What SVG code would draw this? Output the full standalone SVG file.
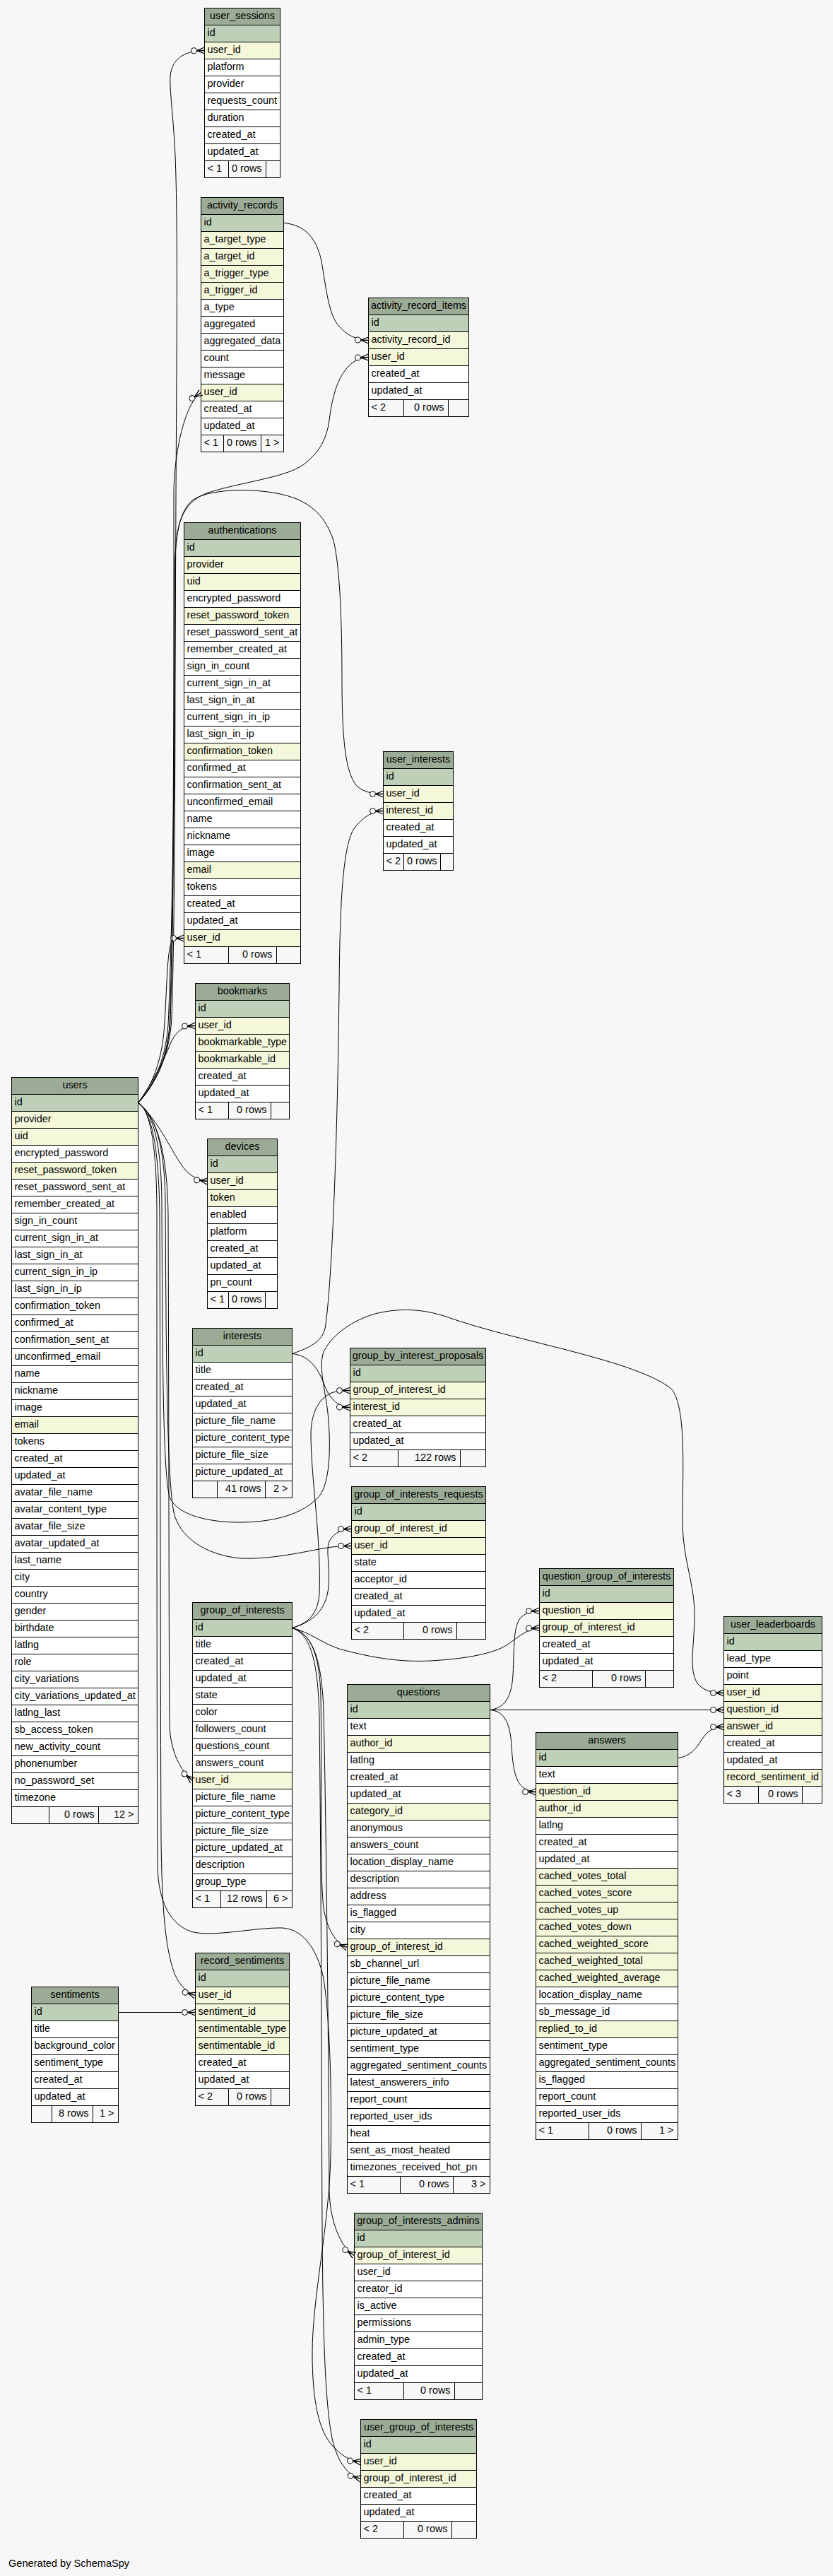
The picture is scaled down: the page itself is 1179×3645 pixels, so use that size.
<svg xmlns="http://www.w3.org/2000/svg" width="1179" height="3645" viewBox="0 0 1179 3645">
<style>
.b rect{stroke:#000;stroke-width:1}
.h{fill:#9bab96}.k{fill:#bed1b8}.i{fill:#f4f7da}.n{fill:#fff}.f{fill:#f7f7f7}
text{font-family:"Liberation Sans",Arial,Helvetica,sans-serif;font-size:14.4px;fill:#000}
.c{text-anchor:middle}.e{text-anchor:end}
#edges path{fill:none;stroke:#000;stroke-width:1;marker-end:url(#cr)}
</style>
<defs>
<marker id="cr" markerUnits="userSpaceOnUse" orient="auto" viewBox="-22 -10 24 20" refX="0" refY="0" markerWidth="24" markerHeight="20" overflow="visible">
<circle cx="-15" cy="0" r="4" fill="#f7f7f7" stroke="#000" stroke-width="1"/>
<path d="M-11,0L0,-4.5M-11,0L0,0M-11,0L0,4.5" fill="none" stroke="#000" stroke-width="1.3"/>
</marker>
</defs>
<rect width="1179" height="3645" fill="#f7f7f7"/>

<g id="user_sessions" class="b" transform="translate(289.5,11.5)">
<rect class="h" width="107" height="24"/><text class="c" x="53.5" y="15.5">user_sessions</text>
<rect class="k" y="24" width="107" height="24"/><text x="4" y="39.5">id</text>
<rect class="i" y="48" width="107" height="24"/><text x="4" y="63.5">user_id</text>
<rect class="n" y="72" width="107" height="24"/><text x="4" y="87.5">platform</text>
<rect class="n" y="96" width="107" height="24"/><text x="4" y="111.5">provider</text>
<rect class="n" y="120" width="107" height="24"/><text x="4" y="135.5">requests_count</text>
<rect class="n" y="144" width="107" height="24"/><text x="4" y="159.5">duration</text>
<rect class="n" y="168" width="107" height="24"/><text x="4" y="183.5">created_at</text>
<rect class="n" y="192" width="107" height="24"/><text x="4" y="207.5">updated_at</text>
<rect class="f" y="216" width="34" height="24"/><rect class="f" x="34" y="216" width="53" height="24"/><rect class="f" x="87" y="216" width="20" height="24"/>
<text x="4" y="231.5">&lt; 1</text><text class="e" x="81" y="231.5">0 rows</text>
</g>

<g id="activity_records" class="b" transform="translate(284.5,279.5)">
<rect class="h" width="117" height="24"/><text class="c" x="58.5" y="15.5">activity_records</text>
<rect class="k" y="24" width="117" height="24"/><text x="4" y="39.5">id</text>
<rect class="i" y="48" width="117" height="24"/><text x="4" y="63.5">a_target_type</text>
<rect class="i" y="72" width="117" height="24"/><text x="4" y="87.5">a_target_id</text>
<rect class="i" y="96" width="117" height="24"/><text x="4" y="111.5">a_trigger_type</text>
<rect class="i" y="120" width="117" height="24"/><text x="4" y="135.5">a_trigger_id</text>
<rect class="n" y="144" width="117" height="24"/><text x="4" y="159.5">a_type</text>
<rect class="n" y="168" width="117" height="24"/><text x="4" y="183.5">aggregated</text>
<rect class="n" y="192" width="117" height="24"/><text x="4" y="207.5">aggregated_data</text>
<rect class="n" y="216" width="117" height="24"/><text x="4" y="231.5">count</text>
<rect class="n" y="240" width="117" height="24"/><text x="4" y="255.5">message</text>
<rect class="i" y="264" width="117" height="24"/><text x="4" y="279.5">user_id</text>
<rect class="n" y="288" width="117" height="24"/><text x="4" y="303.5">created_at</text>
<rect class="n" y="312" width="117" height="24"/><text x="4" y="327.5">updated_at</text>
<rect class="f" y="336" width="32" height="24"/><rect class="f" x="32" y="336" width="53" height="24"/><rect class="f" x="85" y="336" width="32" height="24"/>
<text x="4" y="351.5">&lt; 1</text><text class="e" x="79" y="351.5">0 rows</text><text class="e" x="111" y="351.5">1 &gt;</text>
</g>

<g id="activity_record_items" class="b" transform="translate(521.5,421.5)">
<rect class="h" width="142" height="24"/><text class="c" x="71" y="15.5">activity_record_items</text>
<rect class="k" y="24" width="142" height="24"/><text x="4" y="39.5">id</text>
<rect class="i" y="48" width="142" height="24"/><text x="4" y="63.5">activity_record_id</text>
<rect class="i" y="72" width="142" height="24"/><text x="4" y="87.5">user_id</text>
<rect class="n" y="96" width="142" height="24"/><text x="4" y="111.5">created_at</text>
<rect class="n" y="120" width="142" height="24"/><text x="4" y="135.5">updated_at</text>
<rect class="f" y="144" width="50" height="24"/><rect class="f" x="50" y="144" width="63" height="24"/><rect class="f" x="113" y="144" width="29" height="24"/>
<text x="4" y="159.5">&lt; 2</text><text class="e" x="107" y="159.5">0 rows</text>
</g>

<g id="authentications" class="b" transform="translate(260.5,739.5)">
<rect class="h" width="165" height="24"/><text class="c" x="82.5" y="15.5">authentications</text>
<rect class="k" y="24" width="165" height="24"/><text x="4" y="39.5">id</text>
<rect class="i" y="48" width="165" height="24"/><text x="4" y="63.5">provider</text>
<rect class="i" y="72" width="165" height="24"/><text x="4" y="87.5">uid</text>
<rect class="n" y="96" width="165" height="24"/><text x="4" y="111.5">encrypted_password</text>
<rect class="i" y="120" width="165" height="24"/><text x="4" y="135.5">reset_password_token</text>
<rect class="n" y="144" width="165" height="24"/><text x="4" y="159.5">reset_password_sent_at</text>
<rect class="n" y="168" width="165" height="24"/><text x="4" y="183.5">remember_created_at</text>
<rect class="n" y="192" width="165" height="24"/><text x="4" y="207.5">sign_in_count</text>
<rect class="n" y="216" width="165" height="24"/><text x="4" y="231.5">current_sign_in_at</text>
<rect class="n" y="240" width="165" height="24"/><text x="4" y="255.5">last_sign_in_at</text>
<rect class="n" y="264" width="165" height="24"/><text x="4" y="279.5">current_sign_in_ip</text>
<rect class="n" y="288" width="165" height="24"/><text x="4" y="303.5">last_sign_in_ip</text>
<rect class="i" y="312" width="165" height="24"/><text x="4" y="327.5">confirmation_token</text>
<rect class="n" y="336" width="165" height="24"/><text x="4" y="351.5">confirmed_at</text>
<rect class="n" y="360" width="165" height="24"/><text x="4" y="375.5">confirmation_sent_at</text>
<rect class="n" y="384" width="165" height="24"/><text x="4" y="399.5">unconfirmed_email</text>
<rect class="n" y="408" width="165" height="24"/><text x="4" y="423.5">name</text>
<rect class="n" y="432" width="165" height="24"/><text x="4" y="447.5">nickname</text>
<rect class="n" y="456" width="165" height="24"/><text x="4" y="471.5">image</text>
<rect class="i" y="480" width="165" height="24"/><text x="4" y="495.5">email</text>
<rect class="n" y="504" width="165" height="24"/><text x="4" y="519.5">tokens</text>
<rect class="n" y="528" width="165" height="24"/><text x="4" y="543.5">created_at</text>
<rect class="n" y="552" width="165" height="24"/><text x="4" y="567.5">updated_at</text>
<rect class="i" y="576" width="165" height="24"/><text x="4" y="591.5">user_id</text>
<rect class="f" y="600" width="63" height="24"/><rect class="f" x="63" y="600" width="68" height="24"/><rect class="f" x="131" y="600" width="34" height="24"/>
<text x="4" y="615.5">&lt; 1</text><text class="e" x="125" y="615.5">0 rows</text>
</g>

<g id="user_interests" class="b" transform="translate(542.5,1063.5)">
<rect class="h" width="99" height="24"/><text class="c" x="49.5" y="15.5">user_interests</text>
<rect class="k" y="24" width="99" height="24"/><text x="4" y="39.5">id</text>
<rect class="i" y="48" width="99" height="24"/><text x="4" y="63.5">user_id</text>
<rect class="i" y="72" width="99" height="24"/><text x="4" y="87.5">interest_id</text>
<rect class="n" y="96" width="99" height="24"/><text x="4" y="111.5">created_at</text>
<rect class="n" y="120" width="99" height="24"/><text x="4" y="135.5">updated_at</text>
<rect class="f" y="144" width="29" height="24"/><rect class="f" x="29" y="144" width="52" height="24"/><rect class="f" x="81" y="144" width="18" height="24"/>
<text x="4" y="159.5">&lt; 2</text><text class="e" x="76" y="159.5">0 rows</text>
</g>

<g id="bookmarks" class="b" transform="translate(276.5,1391.5)">
<rect class="h" width="133" height="24"/><text class="c" x="66.5" y="15.5">bookmarks</text>
<rect class="k" y="24" width="133" height="24"/><text x="4" y="39.5">id</text>
<rect class="i" y="48" width="133" height="24"/><text x="4" y="63.5">user_id</text>
<rect class="i" y="72" width="133" height="24"/><text x="4" y="87.5">bookmarkable_type</text>
<rect class="i" y="96" width="133" height="24"/><text x="4" y="111.5">bookmarkable_id</text>
<rect class="n" y="120" width="133" height="24"/><text x="4" y="135.5">created_at</text>
<rect class="n" y="144" width="133" height="24"/><text x="4" y="159.5">updated_at</text>
<rect class="f" y="168" width="47" height="24"/><rect class="f" x="47" y="168" width="60" height="24"/><rect class="f" x="107" y="168" width="26" height="24"/>
<text x="4" y="183.5">&lt; 1</text><text class="e" x="101" y="183.5">0 rows</text>
</g>

<g id="devices" class="b" transform="translate(293.5,1611.5)">
<rect class="h" width="99" height="24"/><text class="c" x="49.5" y="15.5">devices</text>
<rect class="k" y="24" width="99" height="24"/><text x="4" y="39.5">id</text>
<rect class="i" y="48" width="99" height="24"/><text x="4" y="63.5">user_id</text>
<rect class="i" y="72" width="99" height="24"/><text x="4" y="87.5">token</text>
<rect class="n" y="96" width="99" height="24"/><text x="4" y="111.5">enabled</text>
<rect class="n" y="120" width="99" height="24"/><text x="4" y="135.5">platform</text>
<rect class="n" y="144" width="99" height="24"/><text x="4" y="159.5">created_at</text>
<rect class="n" y="168" width="99" height="24"/><text x="4" y="183.5">updated_at</text>
<rect class="n" y="192" width="99" height="24"/><text x="4" y="207.5">pn_count</text>
<rect class="f" y="216" width="30" height="24"/><rect class="f" x="30" y="216" width="52" height="24"/><rect class="f" x="82" y="216" width="17" height="24"/>
<text x="4" y="231.5">&lt; 1</text><text class="e" x="77" y="231.5">0 rows</text>
</g>

<g id="users" class="b" transform="translate(16.5,1524.5)">
<rect class="h" width="179" height="24"/><text class="c" x="89.5" y="15.5">users</text>
<rect class="k" y="24" width="179" height="24"/><text x="4" y="39.5">id</text>
<rect class="i" y="48" width="179" height="24"/><text x="4" y="63.5">provider</text>
<rect class="i" y="72" width="179" height="24"/><text x="4" y="87.5">uid</text>
<rect class="n" y="96" width="179" height="24"/><text x="4" y="111.5">encrypted_password</text>
<rect class="i" y="120" width="179" height="24"/><text x="4" y="135.5">reset_password_token</text>
<rect class="n" y="144" width="179" height="24"/><text x="4" y="159.5">reset_password_sent_at</text>
<rect class="n" y="168" width="179" height="24"/><text x="4" y="183.5">remember_created_at</text>
<rect class="n" y="192" width="179" height="24"/><text x="4" y="207.5">sign_in_count</text>
<rect class="n" y="216" width="179" height="24"/><text x="4" y="231.5">current_sign_in_at</text>
<rect class="n" y="240" width="179" height="24"/><text x="4" y="255.5">last_sign_in_at</text>
<rect class="n" y="264" width="179" height="24"/><text x="4" y="279.5">current_sign_in_ip</text>
<rect class="n" y="288" width="179" height="24"/><text x="4" y="303.5">last_sign_in_ip</text>
<rect class="n" y="312" width="179" height="24"/><text x="4" y="327.5">confirmation_token</text>
<rect class="n" y="336" width="179" height="24"/><text x="4" y="351.5">confirmed_at</text>
<rect class="n" y="360" width="179" height="24"/><text x="4" y="375.5">confirmation_sent_at</text>
<rect class="n" y="384" width="179" height="24"/><text x="4" y="399.5">unconfirmed_email</text>
<rect class="n" y="408" width="179" height="24"/><text x="4" y="423.5">name</text>
<rect class="n" y="432" width="179" height="24"/><text x="4" y="447.5">nickname</text>
<rect class="n" y="456" width="179" height="24"/><text x="4" y="471.5">image</text>
<rect class="i" y="480" width="179" height="24"/><text x="4" y="495.5">email</text>
<rect class="n" y="504" width="179" height="24"/><text x="4" y="519.5">tokens</text>
<rect class="n" y="528" width="179" height="24"/><text x="4" y="543.5">created_at</text>
<rect class="n" y="552" width="179" height="24"/><text x="4" y="567.5">updated_at</text>
<rect class="n" y="576" width="179" height="24"/><text x="4" y="591.5">avatar_file_name</text>
<rect class="n" y="600" width="179" height="24"/><text x="4" y="615.5">avatar_content_type</text>
<rect class="n" y="624" width="179" height="24"/><text x="4" y="639.5">avatar_file_size</text>
<rect class="n" y="648" width="179" height="24"/><text x="4" y="663.5">avatar_updated_at</text>
<rect class="n" y="672" width="179" height="24"/><text x="4" y="687.5">last_name</text>
<rect class="n" y="696" width="179" height="24"/><text x="4" y="711.5">city</text>
<rect class="n" y="720" width="179" height="24"/><text x="4" y="735.5">country</text>
<rect class="n" y="744" width="179" height="24"/><text x="4" y="759.5">gender</text>
<rect class="n" y="768" width="179" height="24"/><text x="4" y="783.5">birthdate</text>
<rect class="n" y="792" width="179" height="24"/><text x="4" y="807.5">latlng</text>
<rect class="n" y="816" width="179" height="24"/><text x="4" y="831.5">role</text>
<rect class="n" y="840" width="179" height="24"/><text x="4" y="855.5">city_variations</text>
<rect class="n" y="864" width="179" height="24"/><text x="4" y="879.5">city_variations_updated_at</text>
<rect class="n" y="888" width="179" height="24"/><text x="4" y="903.5">latlng_last</text>
<rect class="n" y="912" width="179" height="24"/><text x="4" y="927.5">sb_access_token</text>
<rect class="n" y="936" width="179" height="24"/><text x="4" y="951.5">new_activity_count</text>
<rect class="n" y="960" width="179" height="24"/><text x="4" y="975.5">phonenumber</text>
<rect class="n" y="984" width="179" height="24"/><text x="4" y="999.5">no_password_set</text>
<rect class="n" y="1008" width="179" height="24"/><text x="4" y="1023.5">timezone</text>
<rect class="f" y="1032" width="53" height="24"/><rect class="f" x="53" y="1032" width="70" height="24"/><rect class="f" x="123" y="1032" width="56" height="24"/>
<text class="e" x="117" y="1047.5">0 rows</text><text class="e" x="173" y="1047.5">12 &gt;</text>
</g>

<g id="interests" class="b" transform="translate(272.5,1879.5)">
<rect class="h" width="141" height="24"/><text class="c" x="70.5" y="15.5">interests</text>
<rect class="k" y="24" width="141" height="24"/><text x="4" y="39.5">id</text>
<rect class="n" y="48" width="141" height="24"/><text x="4" y="63.5">title</text>
<rect class="n" y="72" width="141" height="24"/><text x="4" y="87.5">created_at</text>
<rect class="n" y="96" width="141" height="24"/><text x="4" y="111.5">updated_at</text>
<rect class="n" y="120" width="141" height="24"/><text x="4" y="135.5">picture_file_name</text>
<rect class="n" y="144" width="141" height="24"/><text x="4" y="159.5">picture_content_type</text>
<rect class="n" y="168" width="141" height="24"/><text x="4" y="183.5">picture_file_size</text>
<rect class="n" y="192" width="141" height="24"/><text x="4" y="207.5">picture_updated_at</text>
<rect class="f" y="216" width="35" height="24"/><rect class="f" x="35" y="216" width="68" height="24"/><rect class="f" x="103" y="216" width="38" height="24"/>
<text class="e" x="97" y="231.5">41 rows</text><text class="e" x="135" y="231.5">2 &gt;</text>
</g>

<g id="group_by_interest_proposals" class="b" transform="translate(495.5,1907.5)">
<rect class="h" width="192" height="24"/><text class="c" x="96" y="15.5">group_by_interest_proposals</text>
<rect class="k" y="24" width="192" height="24"/><text x="4" y="39.5">id</text>
<rect class="i" y="48" width="192" height="24"/><text x="4" y="63.5">group_of_interest_id</text>
<rect class="i" y="72" width="192" height="24"/><text x="4" y="87.5">interest_id</text>
<rect class="n" y="96" width="192" height="24"/><text x="4" y="111.5">created_at</text>
<rect class="n" y="120" width="192" height="24"/><text x="4" y="135.5">updated_at</text>
<rect class="f" y="144" width="68" height="24"/><rect class="f" x="68" y="144" width="88" height="24"/><rect class="f" x="156" y="144" width="36" height="24"/>
<text x="4" y="159.5">&lt; 2</text><text class="e" x="150" y="159.5">122 rows</text>
</g>

<g id="group_of_interests_requests" class="b" transform="translate(497.5,2103.5)">
<rect class="h" width="190" height="24"/><text class="c" x="95" y="15.5">group_of_interests_requests</text>
<rect class="k" y="24" width="190" height="24"/><text x="4" y="39.5">id</text>
<rect class="i" y="48" width="190" height="24"/><text x="4" y="63.5">group_of_interest_id</text>
<rect class="i" y="72" width="190" height="24"/><text x="4" y="87.5">user_id</text>
<rect class="n" y="96" width="190" height="24"/><text x="4" y="111.5">state</text>
<rect class="n" y="120" width="190" height="24"/><text x="4" y="135.5">acceptor_id</text>
<rect class="n" y="144" width="190" height="24"/><text x="4" y="159.5">created_at</text>
<rect class="n" y="168" width="190" height="24"/><text x="4" y="183.5">updated_at</text>
<rect class="f" y="192" width="74" height="24"/><rect class="f" x="74" y="192" width="75" height="24"/><rect class="f" x="149" y="192" width="41" height="24"/>
<text x="4" y="207.5">&lt; 2</text><text class="e" x="143" y="207.5">0 rows</text>
</g>

<g id="question_group_of_interests" class="b" transform="translate(763.5,2219.5)">
<rect class="h" width="190" height="24"/><text class="c" x="95" y="15.5">question_group_of_interests</text>
<rect class="k" y="24" width="190" height="24"/><text x="4" y="39.5">id</text>
<rect class="i" y="48" width="190" height="24"/><text x="4" y="63.5">question_id</text>
<rect class="i" y="72" width="190" height="24"/><text x="4" y="87.5">group_of_interest_id</text>
<rect class="n" y="96" width="190" height="24"/><text x="4" y="111.5">created_at</text>
<rect class="n" y="120" width="190" height="24"/><text x="4" y="135.5">updated_at</text>
<rect class="f" y="144" width="75" height="24"/><rect class="f" x="75" y="144" width="75" height="24"/><rect class="f" x="150" y="144" width="40" height="24"/>
<text x="4" y="159.5">&lt; 2</text><text class="e" x="144" y="159.5">0 rows</text>
</g>

<g id="user_leaderboards" class="b" transform="translate(1024.5,2287.5)">
<rect class="h" width="139" height="24"/><text class="c" x="69.5" y="15.5">user_leaderboards</text>
<rect class="k" y="24" width="139" height="24"/><text x="4" y="39.5">id</text>
<rect class="n" y="48" width="139" height="24"/><text x="4" y="63.5">lead_type</text>
<rect class="n" y="72" width="139" height="24"/><text x="4" y="87.5">point</text>
<rect class="i" y="96" width="139" height="24"/><text x="4" y="111.5">user_id</text>
<rect class="i" y="120" width="139" height="24"/><text x="4" y="135.5">question_id</text>
<rect class="i" y="144" width="139" height="24"/><text x="4" y="159.5">answer_id</text>
<rect class="n" y="168" width="139" height="24"/><text x="4" y="183.5">created_at</text>
<rect class="n" y="192" width="139" height="24"/><text x="4" y="207.5">updated_at</text>
<rect class="i" y="216" width="139" height="24"/><text x="4" y="231.5">record_sentiment_id</text>
<rect class="f" y="240" width="49" height="24"/><rect class="f" x="49" y="240" width="62" height="24"/><rect class="f" x="111" y="240" width="28" height="24"/>
<text x="4" y="255.5">&lt; 3</text><text class="e" x="105" y="255.5">0 rows</text>
</g>

<g id="group_of_interests" class="b" transform="translate(272.5,2267.5)">
<rect class="h" width="141" height="24"/><text class="c" x="70.5" y="15.5">group_of_interests</text>
<rect class="k" y="24" width="141" height="24"/><text x="4" y="39.5">id</text>
<rect class="n" y="48" width="141" height="24"/><text x="4" y="63.5">title</text>
<rect class="n" y="72" width="141" height="24"/><text x="4" y="87.5">created_at</text>
<rect class="n" y="96" width="141" height="24"/><text x="4" y="111.5">updated_at</text>
<rect class="n" y="120" width="141" height="24"/><text x="4" y="135.5">state</text>
<rect class="n" y="144" width="141" height="24"/><text x="4" y="159.5">color</text>
<rect class="n" y="168" width="141" height="24"/><text x="4" y="183.5">followers_count</text>
<rect class="n" y="192" width="141" height="24"/><text x="4" y="207.5">questions_count</text>
<rect class="n" y="216" width="141" height="24"/><text x="4" y="231.5">answers_count</text>
<rect class="i" y="240" width="141" height="24"/><text x="4" y="255.5">user_id</text>
<rect class="n" y="264" width="141" height="24"/><text x="4" y="279.5">picture_file_name</text>
<rect class="n" y="288" width="141" height="24"/><text x="4" y="303.5">picture_content_type</text>
<rect class="n" y="312" width="141" height="24"/><text x="4" y="327.5">picture_file_size</text>
<rect class="n" y="336" width="141" height="24"/><text x="4" y="351.5">picture_updated_at</text>
<rect class="n" y="360" width="141" height="24"/><text x="4" y="375.5">description</text>
<rect class="n" y="384" width="141" height="24"/><text x="4" y="399.5">group_type</text>
<rect class="f" y="408" width="40" height="24"/><rect class="f" x="40" y="408" width="65" height="24"/><rect class="f" x="105" y="408" width="36" height="24"/>
<text x="4" y="423.5">&lt; 1</text><text class="e" x="99" y="423.5">12 rows</text><text class="e" x="135" y="423.5">6 &gt;</text>
</g>

<g id="questions" class="b" transform="translate(491.5,2383.5)">
<rect class="h" width="202" height="24"/><text class="c" x="101" y="15.5">questions</text>
<rect class="k" y="24" width="202" height="24"/><text x="4" y="39.5">id</text>
<rect class="n" y="48" width="202" height="24"/><text x="4" y="63.5">text</text>
<rect class="i" y="72" width="202" height="24"/><text x="4" y="87.5">author_id</text>
<rect class="n" y="96" width="202" height="24"/><text x="4" y="111.5">latlng</text>
<rect class="n" y="120" width="202" height="24"/><text x="4" y="135.5">created_at</text>
<rect class="n" y="144" width="202" height="24"/><text x="4" y="159.5">updated_at</text>
<rect class="i" y="168" width="202" height="24"/><text x="4" y="183.5">category_id</text>
<rect class="n" y="192" width="202" height="24"/><text x="4" y="207.5">anonymous</text>
<rect class="n" y="216" width="202" height="24"/><text x="4" y="231.5">answers_count</text>
<rect class="n" y="240" width="202" height="24"/><text x="4" y="255.5">location_display_name</text>
<rect class="n" y="264" width="202" height="24"/><text x="4" y="279.5">description</text>
<rect class="n" y="288" width="202" height="24"/><text x="4" y="303.5">address</text>
<rect class="n" y="312" width="202" height="24"/><text x="4" y="327.5">is_flagged</text>
<rect class="n" y="336" width="202" height="24"/><text x="4" y="351.5">city</text>
<rect class="i" y="360" width="202" height="24"/><text x="4" y="375.5">group_of_interest_id</text>
<rect class="n" y="384" width="202" height="24"/><text x="4" y="399.5">sb_channel_url</text>
<rect class="n" y="408" width="202" height="24"/><text x="4" y="423.5">picture_file_name</text>
<rect class="n" y="432" width="202" height="24"/><text x="4" y="447.5">picture_content_type</text>
<rect class="n" y="456" width="202" height="24"/><text x="4" y="471.5">picture_file_size</text>
<rect class="n" y="480" width="202" height="24"/><text x="4" y="495.5">picture_updated_at</text>
<rect class="n" y="504" width="202" height="24"/><text x="4" y="519.5">sentiment_type</text>
<rect class="n" y="528" width="202" height="24"/><text x="4" y="543.5">aggregated_sentiment_counts</text>
<rect class="n" y="552" width="202" height="24"/><text x="4" y="567.5">latest_answerers_info</text>
<rect class="n" y="576" width="202" height="24"/><text x="4" y="591.5">report_count</text>
<rect class="n" y="600" width="202" height="24"/><text x="4" y="615.5">reported_user_ids</text>
<rect class="n" y="624" width="202" height="24"/><text x="4" y="639.5">heat</text>
<rect class="n" y="648" width="202" height="24"/><text x="4" y="663.5">sent_as_most_heated</text>
<rect class="n" y="672" width="202" height="24"/><text x="4" y="687.5">timezones_received_hot_pn</text>
<rect class="f" y="696" width="75" height="24"/><rect class="f" x="75" y="696" width="75" height="24"/><rect class="f" x="150" y="696" width="52" height="24"/>
<text x="4" y="711.5">&lt; 1</text><text class="e" x="144" y="711.5">0 rows</text><text class="e" x="196" y="711.5">3 &gt;</text>
</g>

<g id="answers" class="b" transform="translate(758.5,2451.5)">
<rect class="h" width="201" height="24"/><text class="c" x="100.5" y="15.5">answers</text>
<rect class="k" y="24" width="201" height="24"/><text x="4" y="39.5">id</text>
<rect class="n" y="48" width="201" height="24"/><text x="4" y="63.5">text</text>
<rect class="i" y="72" width="201" height="24"/><text x="4" y="87.5">question_id</text>
<rect class="i" y="96" width="201" height="24"/><text x="4" y="111.5">author_id</text>
<rect class="n" y="120" width="201" height="24"/><text x="4" y="135.5">latlng</text>
<rect class="n" y="144" width="201" height="24"/><text x="4" y="159.5">created_at</text>
<rect class="n" y="168" width="201" height="24"/><text x="4" y="183.5">updated_at</text>
<rect class="i" y="192" width="201" height="24"/><text x="4" y="207.5">cached_votes_total</text>
<rect class="i" y="216" width="201" height="24"/><text x="4" y="231.5">cached_votes_score</text>
<rect class="i" y="240" width="201" height="24"/><text x="4" y="255.5">cached_votes_up</text>
<rect class="i" y="264" width="201" height="24"/><text x="4" y="279.5">cached_votes_down</text>
<rect class="i" y="288" width="201" height="24"/><text x="4" y="303.5">cached_weighted_score</text>
<rect class="i" y="312" width="201" height="24"/><text x="4" y="327.5">cached_weighted_total</text>
<rect class="i" y="336" width="201" height="24"/><text x="4" y="351.5">cached_weighted_average</text>
<rect class="n" y="360" width="201" height="24"/><text x="4" y="375.5">location_display_name</text>
<rect class="n" y="384" width="201" height="24"/><text x="4" y="399.5">sb_message_id</text>
<rect class="i" y="408" width="201" height="24"/><text x="4" y="423.5">replied_to_id</text>
<rect class="n" y="432" width="201" height="24"/><text x="4" y="447.5">sentiment_type</text>
<rect class="n" y="456" width="201" height="24"/><text x="4" y="471.5">aggregated_sentiment_counts</text>
<rect class="n" y="480" width="201" height="24"/><text x="4" y="495.5">is_flagged</text>
<rect class="n" y="504" width="201" height="24"/><text x="4" y="519.5">report_count</text>
<rect class="n" y="528" width="201" height="24"/><text x="4" y="543.5">reported_user_ids</text>
<rect class="f" y="552" width="75" height="24"/><rect class="f" x="75" y="552" width="74" height="24"/><rect class="f" x="149" y="552" width="52" height="24"/>
<text x="4" y="567.5">&lt; 1</text><text class="e" x="143" y="567.5">0 rows</text><text class="e" x="195" y="567.5">1 &gt;</text>
</g>

<g id="sentiments" class="b" transform="translate(44.5,2811.5)">
<rect class="h" width="123" height="24"/><text class="c" x="61.5" y="15.5">sentiments</text>
<rect class="k" y="24" width="123" height="24"/><text x="4" y="39.5">id</text>
<rect class="n" y="48" width="123" height="24"/><text x="4" y="63.5">title</text>
<rect class="n" y="72" width="123" height="24"/><text x="4" y="87.5">background_color</text>
<rect class="n" y="96" width="123" height="24"/><text x="4" y="111.5">sentiment_type</text>
<rect class="n" y="120" width="123" height="24"/><text x="4" y="135.5">created_at</text>
<rect class="n" y="144" width="123" height="24"/><text x="4" y="159.5">updated_at</text>
<rect class="f" y="168" width="29" height="24"/><rect class="f" x="29" y="168" width="58" height="24"/><rect class="f" x="87" y="168" width="36" height="24"/>
<text class="e" x="81" y="183.5">8 rows</text><text class="e" x="117" y="183.5">1 &gt;</text>
</g>

<g id="record_sentiments" class="b" transform="translate(276.5,2763.5)">
<rect class="h" width="133" height="24"/><text class="c" x="66.5" y="15.5">record_sentiments</text>
<rect class="k" y="24" width="133" height="24"/><text x="4" y="39.5">id</text>
<rect class="i" y="48" width="133" height="24"/><text x="4" y="63.5">user_id</text>
<rect class="i" y="72" width="133" height="24"/><text x="4" y="87.5">sentiment_id</text>
<rect class="i" y="96" width="133" height="24"/><text x="4" y="111.5">sentimentable_type</text>
<rect class="i" y="120" width="133" height="24"/><text x="4" y="135.5">sentimentable_id</text>
<rect class="n" y="144" width="133" height="24"/><text x="4" y="159.5">created_at</text>
<rect class="n" y="168" width="133" height="24"/><text x="4" y="183.5">updated_at</text>
<rect class="f" y="192" width="47" height="24"/><rect class="f" x="47" y="192" width="60" height="24"/><rect class="f" x="107" y="192" width="26" height="24"/>
<text x="4" y="207.5">&lt; 2</text><text class="e" x="101" y="207.5">0 rows</text>
</g>

<g id="group_of_interests_admins" class="b" transform="translate(501.5,3131.5)">
<rect class="h" width="181" height="24"/><text class="c" x="90.5" y="15.5">group_of_interests_admins</text>
<rect class="k" y="24" width="181" height="24"/><text x="4" y="39.5">id</text>
<rect class="i" y="48" width="181" height="24"/><text x="4" y="63.5">group_of_interest_id</text>
<rect class="n" y="72" width="181" height="24"/><text x="4" y="87.5">user_id</text>
<rect class="n" y="96" width="181" height="24"/><text x="4" y="111.5">creator_id</text>
<rect class="n" y="120" width="181" height="24"/><text x="4" y="135.5">is_active</text>
<rect class="n" y="144" width="181" height="24"/><text x="4" y="159.5">permissions</text>
<rect class="n" y="168" width="181" height="24"/><text x="4" y="183.5">admin_type</text>
<rect class="n" y="192" width="181" height="24"/><text x="4" y="207.5">created_at</text>
<rect class="n" y="216" width="181" height="24"/><text x="4" y="231.5">updated_at</text>
<rect class="f" y="240" width="70" height="24"/><rect class="f" x="70" y="240" width="72" height="24"/><rect class="f" x="142" y="240" width="39" height="24"/>
<text x="4" y="255.5">&lt; 1</text><text class="e" x="136" y="255.5">0 rows</text>
</g>

<g id="user_group_of_interests" class="b" transform="translate(510.5,3423.5)">
<rect class="h" width="164" height="24"/><text class="c" x="82" y="15.5">user_group_of_interests</text>
<rect class="k" y="24" width="164" height="24"/><text x="4" y="39.5">id</text>
<rect class="i" y="48" width="164" height="24"/><text x="4" y="63.5">user_id</text>
<rect class="i" y="72" width="164" height="24"/><text x="4" y="87.5">group_of_interest_id</text>
<rect class="n" y="96" width="164" height="24"/><text x="4" y="111.5">created_at</text>
<rect class="n" y="120" width="164" height="24"/><text x="4" y="135.5">updated_at</text>
<rect class="f" y="144" width="61" height="24"/><rect class="f" x="61" y="144" width="68" height="24"/><rect class="f" x="129" y="144" width="35" height="24"/>
<text x="4" y="159.5">&lt; 2</text><text class="e" x="123" y="159.5">0 rows</text>
</g>

<g id="edges">
<path d="M195.5,1560.5 C214,1540 234,1505 238,1450 C245,1300 248,1000 249,700 C250,500 252,320 248,220 C245,160 240,130 241,108 C243,85 258,72 289.5,71.5"/>
<path d="M195.5,1560.5 C215,1540 236,1505 240,1450 C246,1300 246,1000 246,700 C246,640 262,570 284.5,555.5"/>
<path d="M401.5,315.5 C430,318 448,335 455,370 C462,410 465,445 480,462 C492,475 505,481 521.5,481.5"/>
<path d="M195.5,1560.5 C216,1538 240,1500 243,1440 C248,1300 248,1000 248,800 C248,740 258,712 292,698 C340,682 405,676 430,657 C452,640 462,622 466,595 C470,562 477,538 490,522 C498,512 508,506 521.5,505.5"/>
<path d="M195.5,1560.5 C213,1540 228,1505 232,1460 C236,1410 236,1350 242,1336 C246,1329 252,1327.5 260.5,1327.5"/>
<path d="M195.5,1560.5 C215,1540 238,1502 241,1445 C246,1300 247,1050 247,830 C247,770 250,728 272,708 C300,688 385,690 422,707 C447,718 463,737 472,765 C481,800 484,880 484,960 C484,1040 488,1095 506,1113 C516,1121 528,1123.5 542.5,1123.5"/>
<path d="M413.5,1915.5 C435,1908 455,1900 460,1880 C470,1820 478,1600 480,1400 C481,1250 488,1188 503,1170 C514,1156 528,1147.5 542.5,1147.5"/>
<path d="M195.5,1560.5 C214,1535 232,1500 242,1475 C250,1458 260,1452 276.5,1451.5"/>
<path d="M195.5,1560.5 C225,1585 245,1635 262,1655 C270,1664 280,1670 293.5,1671.5"/>
<path d="M413.5,2303.5 C435,2297 450,2285 452,2255 C455,2180 440,2090 440,2030 C440,1995 455,1975 472,1970 C482,1967.5 490,1967.5 495.5,1967.5"/>
<path d="M413.5,1915.5 C440,1918 452,1940 460,1962 C467,1980 480,1991 495.5,1991.5"/>
<path d="M413.5,2303.5 C440,2296 462,2280 465,2245 C468,2210 458,2188 470,2175 C478,2166 488,2163.5 497.5,2163.5"/>
<path d="M195.5,1560.5 C220,1578 233,1620 234,1700 C235,1900 236,2090 246,2140 C254,2175 290,2200 340,2205 C390,2207 440,2193 470,2189 C480,2188 490,2187.5 497.5,2187.5"/>
<path d="M693.5,2419.5 C712,2417 724,2405 726,2370 C728,2330 726,2300 738,2288 C745,2282 752,2279.5 763.5,2279.5"/>
<path d="M413.5,2303.5 C440,2310 455,2325 480,2333 C530,2347 570,2352 610,2350 C660,2347 700,2340 720,2326 C735,2315 748,2304 763.5,2303.5"/>
<path d="M195.5,1560.5 C218,1576 228,1620 229,1700 C230,1900 230,2080 240,2118 C250,2145 300,2155 345,2154 C390,2153 430,2142 452,2117 C467,2097 468,2050 465,2010 C462,1970 451,1942 457,1916 C466,1890 505,1862 545,1856 C580,1850 610,1855 640,1866 C740,1900 900,1925 950,1965 C972,1990 966,2085 966,2150 C966,2210 984,2240 983,2290 C982,2335 975,2362 987,2382 C996,2393 1010,2395.5 1024.5,2395.5"/>
<path d="M693.5,2419.5 L1024.5,2419.5"/>
<path d="M959.5,2487.5 C975,2486 985,2475 993,2462 C1000,2450 1010,2443.5 1024.5,2443.5"/>
<path d="M195.5,1560.5 C222,1580 237,1630 238,1720 C239,1950 239,2350 240,2440 C241,2478 255,2505 272.5,2519.5"/>
<path d="M413.5,2303.5 C435,2310 452,2330 454,2400 C456,2500 452,2650 458,2700 C463,2730 475,2750 491.5,2755.5"/>
<path d="M693.5,2419.5 C712,2421 722,2435 724,2470 C726,2505 730,2525 745,2532 C750,2534 754,2535.5 758.5,2535.5"/>
<path d="M195.5,1560.5 C218,1575 225,1640 226,1720 C227,2000 227,2400 228,2600 C229,2700 234,2760 248,2795 C256,2811 265,2820 276.5,2823.5"/>
<path d="M167.5,2847.5 L276.5,2847.5"/>
<path d="M413.5,2303.5 C440,2312 455,2340 458,2420 C462,2600 465,2900 466,3100 C467,3140 480,3178 501.5,3191.5"/>
<path d="M195.5,1560.5 C216,1572 222,1640 222,1720 C222,2100 222,2500 223,2640 C224,2690 240,2722 270,2733 C300,2742 360,2727 400,2728 C430,2730 450,2760 458,2800 C466,2850 470,2950 468,3050 C466,3150 442,3250 442,3330 C442,3400 452,3440 470,3460 C482,3474 495,3482 510.5,3483.5"/>
<path d="M413.5,2303.5 C438,2312 450,2345 452,2430 C455,2700 455,2950 456,3150 C457,3300 460,3400 470,3450 C478,3485 492,3502 510.5,3507.5"/>
</g>

<text x="12" y="3632" style="font-size:14.6px">Generated by SchemaSpy</text>
</svg>
